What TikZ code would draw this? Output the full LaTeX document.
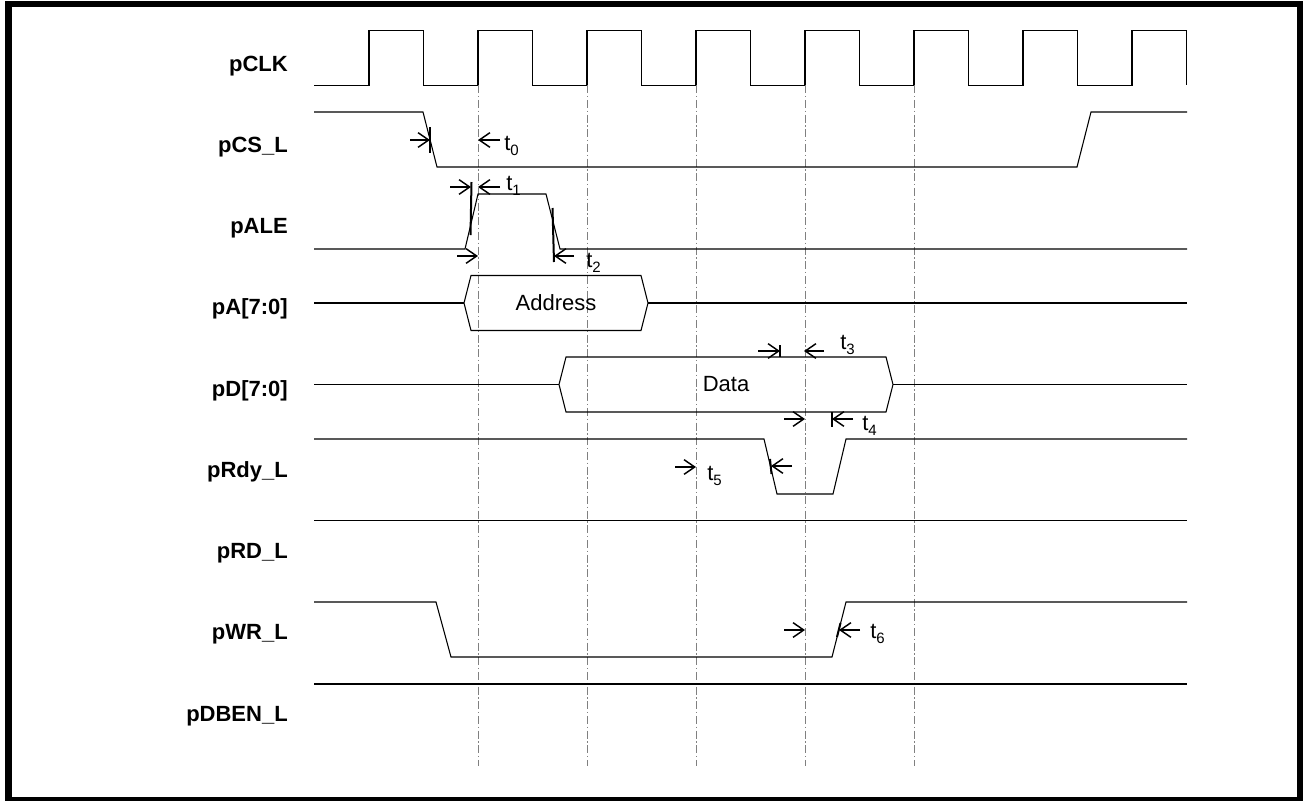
\documentclass[tikz,border=0pt]{standalone}
\usepackage{fontspec}
\setmainfont{Liberation Sans}
\usetikzlibrary{arrows.meta}
\newcommand{\tlab}[1]{t\raisebox{-3.75pt}{\fontsize{11.25}{12}\selectfont #1}}
\begin{document}
\begin{tikzpicture}[x=0.75pt,y=-0.75pt,
  sig/.style={line width=0.8pt},
  grid/.style={gray,line width=0.6pt,dash pattern=on 6pt off 2pt on 1pt off 2pt},
  tarr/.style={-{Straight Barb[length=8pt,width=11pt]},line width=1.1pt},
  ttick/.style={line width=1.5pt},
  lbl/.style={anchor=base east,inner sep=0pt,font=\fontsize{16.5}{19}\selectfont\bfseries},
  tl/.style={anchor=base west,inner sep=0pt,font=\fontsize{16.5}{19}\selectfont},
  bus/.style={inner sep=0pt,font=\fontsize{16.5}{19}\selectfont}]
\useasboundingbox (0,0) rectangle (1303,800);
\draw[line width=4.9pt] (8.5,4) rectangle (1300,800.5);
\foreach \name [count=\i from 0] in {pCLK,pCS\_L,pALE,{pA[7:0]},{pD[7:0]},pRdy\_L,pRD\_L,pWR\_L,pDBEN\_L}
  \node[lbl] (lab\i) at (288,71+81.25*\i) {\name};
\draw[sig] (314,85.3) \foreach \k in {0,...,7}{ -- ({369+109*\k},85.3) -- ({369+109*\k},30.3) -- ({423.5+109*\k},30.3) -- ({423.5+109*\k},85.3)};
\foreach \k in {1,...,5} \draw[grid] ({369+109*\k},85.3) -- ({369+109*\k},766);
\draw[sig] (314,112) -- (423,112) -- (437,167) -- (1077,167) -- (1091,112) -- (1187,112);
\draw[ttick] (430,127) -- (430,153);
\draw[tarr] (410,140) -- (430,140);
\draw[tarr] (500,140) -- (478,140);
\node[tl] (t0) at (504,150) {\tlab{0}};
\draw[sig] (314,249) -- (465,249) -- (478,194) -- (546,194) -- (560,249) -- (1187,249);
\draw[ttick] (471.5,182) -- (470.5,235);
\draw[tarr] (450,187) -- (471,187);
\draw[tarr] (500,187) -- (478,187);
\node[tl] (t1) at (506,190) {\tlab{1}};
\draw[tarr] (457,256) -- (478,256);
\draw[ttick] (552.5,208) -- (554,262);
\draw[tarr] (574,256) -- (554,256);
\node[tl] (t2) at (586,267) {\tlab{2}};
\draw[sig] (314,303) -- (464,303) (648,303) -- (1187,303);
\draw[sig] (464,303) -- (471,275.5) -- (641,275.5) -- (648,303) -- (641,330.5) -- (471,330.5) -- cycle;
\node[bus] (addr) at (556,303) {Address};
\draw[sig] (314,384.5) -- (559,384.5) (893,384.5) -- (1187,384.5);
\draw[sig] (559,384.5) -- (566,357) -- (886,357) -- (893,384.5) -- (886,412) -- (566,412) -- cycle;
\node[bus] (data) at (726,384.5) {Data};
\draw[ttick] (780,345) -- (780,357);
\draw[tarr] (758,351) -- (780,351);
\draw[tarr] (824,351) -- (804,351);
\node[tl] (t3) at (840,349) {\tlab{3}};
\draw[tarr] (784,419) -- (805,419);
\draw[ttick] (832,412) -- (832,427);
\draw[tarr] (853,419) -- (832,419);
\node[tl] (t4) at (862,430) {\tlab{4}};
\draw[sig] (314,439) -- (764,439) -- (777,494) -- (833,494) -- (846,439) -- (1187,439);
\draw[tarr] (675,467) -- (696,467);
\node[tl] (t5) at (707,480) {\tlab{5}};
\draw[ttick] (770,459) -- (771.5,474);
\draw[tarr] (792,466) -- (771,466);
\draw[sig] (314,520.5) -- (1187,520.5);
\draw[sig] (314,602) -- (436,602) -- (451,657) -- (832,657) -- (846,602) -- (1187,602);
\draw[tarr] (784,630) -- (805,630);
\draw[ttick] (840.5,623) -- (837,637);
\draw[tarr] (860,630) -- (839,630);
\node[tl] (t6) at (870,638) {\tlab{6}};
\draw[sig] (314,684) -- (1187,684);
\end{tikzpicture}
\end{document}
